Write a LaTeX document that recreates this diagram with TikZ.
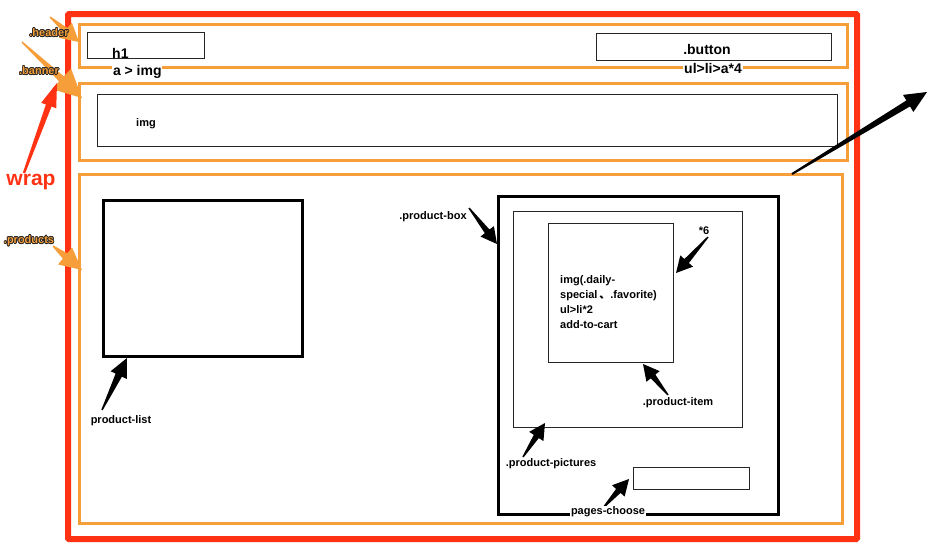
\documentclass[tikz,border=0pt]{standalone}
\usepackage{fontspec}
\setmainfont{Liberation Sans}
\newfontfamily\cjk{Noto Sans CJK SC}
\usepackage[copies]{contour}
\contourlength{0.8pt}
\contournumber{12}
\usetikzlibrary{calc}
\definecolor{wrapred}{RGB}{255,51,20}
\definecolor{orng}{RGB}{245,158,58}
\newcommand\taperhl{16pt}
\newcommand\taperhw{8.5pt}
\newcommand\tapernw{3pt}
\newcommand\taperttw{0.7pt}
\newcommand\olab[1]{\contour{black!85}{\textcolor{orng}{#1}}}
\tikzset{
  headlen/.store in=\taperhl, headwid/.store in=\taperhw,
  neckwid/.store in=\tapernw, tailwid/.store in=\taperttw,
  taper/.style={to path={let \p1=($(\tikztotarget)-(\tikztostart)$),
      \n1={veclen(\x1,\y1)}, \n2={atan2(\y1,\x1)}, \n3={\n1-\taperhl} in
      ($(\tikztostart)+(\n2+90:\taperttw)$)
      -- ($(\tikztostart)+(\n2:\n3)+(\n2+90:\tapernw)$)
      -- ($(\tikztostart)+(\n2:\n3)+(\n2+90:\taperhw)$)
      -- (\tikztotarget)
      -- ($(\tikztostart)+(\n2:\n3)+(\n2-90:\taperhw)$)
      -- ($(\tikztostart)+(\n2:\n3)+(\n2-90:\tapernw)$)
      -- ($(\tikztostart)-(\n2+90:\taperttw)$) -- cycle}},
  box/.style={draw, rectangle, anchor=north west, inner sep=0pt},
  redbox/.style={box, draw=wrapred, line width=6pt},
  obox/.style={box, draw=orng, line width=2.5pt},
  thickbox/.style={box, draw=black, line width=2.5pt},
  thinbox/.style={box, draw=black!85, line width=0.9pt},
  big/.style={font=\fontsize{14}{16}\selectfont\bfseries, inner sep=0pt},
  lab/.style={font=\fontsize{11}{15}\selectfont\bfseries, inner sep=0pt},
  olabel/.style={font=\fontsize{11}{12}\selectfont\bfseries, inner sep=0pt},
  cover/.style={fill=white, inner sep=0.8pt},
  blackarrow/.style={fill=black},
  orangearrow/.style={fill=orng},
  redarrow/.style={fill=wrapred},
}
\begin{document}
\begin{tikzpicture}[x=1pt,y=-1pt]
\useasboundingbox (0,0) rectangle (929,544);
% wrap
\node[redbox, minimum width=789pt, minimum height=525pt, rounded corners=1pt] (wrap) at (65,11) {};
% header
\node[obox, minimum width=768pt, minimum height=43pt] (header) at (78,23) {};
\node[thinbox, minimum width=117pt, minimum height=26pt] (h1box) at (87,32) {};
\node[thinbox, minimum width=235pt, minimum height=27pt] (btnbox) at (596,33) {};
% banner
\node[obox, minimum width=768pt, minimum height=77pt] (banner) at (78,82) {};
\node[thinbox, minimum width=740pt, minimum height=52pt] (imgbox) at (97,94) {};
% products
\node[obox, minimum width=763pt, minimum height=349pt] (products) at (78,173) {};
\node[thickbox, minimum width=199pt, minimum height=156pt] (plist) at (102,199) {};
\node[thickbox, minimum width=280pt, minimum height=318pt] (pbox) at (497,195) {};
\node[thinbox, minimum width=229pt, minimum height=216pt] (ppics) at (513,211) {};
\node[thinbox, minimum width=125pt, minimum height=139pt] (pitem) at (548,223) {};
\node[thinbox, minimum width=116pt, minimum height=22pt] (pages) at (633,467) {};

% arrow end points
\coordinate (a1s) at (469,208); \coordinate (a1e) at (497,244);
\coordinate (a2s) at (708,237); \coordinate (a2e) at (676,273);
\coordinate (a3s) at (668,395); \coordinate (a3e) at (643,364);
\coordinate (a4s) at (523,457); \coordinate (a4e) at (545,423);
\coordinate (a5s) at (603,508); \coordinate (a5e) at (629,479);
\coordinate (a6s) at (102,410); \coordinate (a6e) at (127,358);
\coordinate (a7s) at (792,174); \coordinate (a7e) at (927,92);
\coordinate (o1s) at (50,17);  \coordinate (o1e) at (79,42);
\coordinate (o2s) at (22,42);  \coordinate (o2e) at (82,98);
\coordinate (o3s) at (53,246); \coordinate (o3e) at (82,270);
\coordinate (r1s) at (24,173); \coordinate (r1e) at (57,83);

% black arrows
\fill[blackarrow] (a1s) to[taper] (a1e);
\fill[blackarrow] (a2s) to[taper] (a2e);
\fill[blackarrow] (a3s) to[taper] (a3e);
\fill[blackarrow] (a4s) to[taper] (a4e);
\fill[blackarrow] (a5s) to[taper] (a5e);
\fill[blackarrow, headlen=19pt, headwid=9pt, neckwid=3.5pt] (a6s) to[taper] (a6e);
\fill[blackarrow, headlen=22pt, headwid=10pt, neckwid=3.5pt, tailwid=1pt] (a7s) to[taper] (a7e);
% orange and red arrows
\fill[orangearrow, headlen=18pt, headwid=10pt, neckwid=3pt] (o1s) to[taper] (o1e);
\fill[orangearrow, headlen=28pt, headwid=14pt, neckwid=3.5pt] (o2s) to[taper] (o2e);
\fill[orangearrow, headlen=22pt, headwid=11pt, neckwid=3.5pt] (o3s) to[taper] (o3e);
\fill[redarrow, headlen=24pt, headwid=8pt, neckwid=3pt, tailwid=1.2pt] (r1s) to[taper] (r1e);

% texts
\node[big, anchor=west] (th1) at (112,53) {h1};
\node[big, cover, anchor=west] (taimg) at (112,72) {a > img};
\node[big] (tbutton) at (707,49) {.button};
\node[big, cover] (tul) at (713,68) {ul>li>a*4};
\node[lab] (timg) at (146,124) {img};
\node[lab, anchor=north west, align=left] (titem) at (560,275)
  {img(.daily-\\ special\,{\cjk 、}.favorite)\\ ul>li*2\\ add-to-cart};
\node[lab] (tsix) at (704,231) {*6};
\node[lab] (tpbox) at (433,217) {.product-box};
\node[lab] (tpitem) at (678,403) {.product-item};
\node[lab] (tppics) at (551,464) {.product-pictures};
\node[lab, cover] (tpages) at (608,512) {pages-choose};
\node[lab] (tplist) at (121,421) {product-list};
\node[olabel] (theader) at (49,33) {\olab{.header}};
\node[olabel] (tbanner) at (39,71) {\olab{.banner}};
\node[olabel] (tproducts) at (29,241) {\olab{.products}};
\node[font=\fontsize{21}{24}\selectfont\bfseries, text=wrapred, inner sep=0pt] (twrap) at (31,182) {wrap};
\end{tikzpicture}
\end{document}
